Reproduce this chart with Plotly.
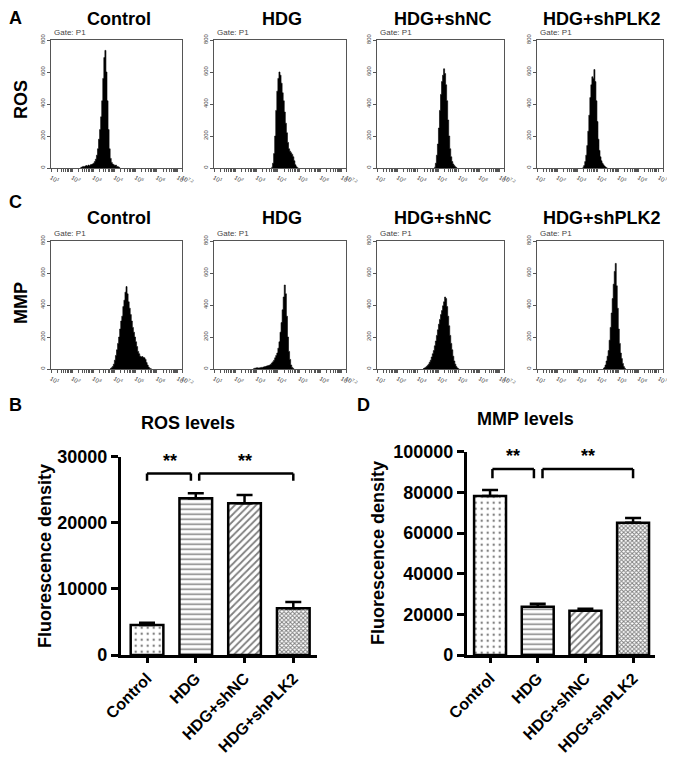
import numpy as np
import plotly.graph_objects as go

# The page body has an 8px margin; the figure is sized to fit the 675x763 window.
REF_W, REF_H = 675, 763
OFF = 8
W, H = REF_W - OFF, REF_H - OFF
FONT = "Arial, 'Liberation Sans', sans-serif"

# ---------------- data ----------------
groups = ["Control", "HDG", "HDG+shNC", "HDG+shPLK2"]

ros_means = [4540, 23700, 22950, 7060]
ros_err = [340, 760, 1250, 960]
mmp_means = [78200, 23700, 21800, 65100]
mmp_err = [2950, 1500, 970, 2300]

ros_ticks = [0, 10000, 20000, 30000]
mmp_ticks = [0, 20000, 40000, 60000, 80000, 100000]

bin_step = 0.05  # log10 units

# ROS histograms (log10 start of first bin, counts)
ros_control_start = 2.40
ros_control_counts = [4, 6, 10, 8, 12, 15, 12, 18, 14, 20, 22, 25, 30, 40, 55, 80, 120, 180,
                      240, 320, 420, 560, 690, 735, 600, 420, 240, 120, 60, 35, 25, 20, 15,
                      18, 10, 8, 4]
ros_hdg_start = 3.70
ros_hdg_counts = [5, 30, 90, 200, 360, 480, 560, 600, 580, 530, 470, 420, 350, 280, 220, 160,
                  120, 105, 95, 85, 70, 45, 20, 8, 2]
ros_shnc_start = 3.80
ros_shnc_counts = [5, 30, 80, 150, 250, 360, 460, 540, 580, 620, 590, 520, 420, 300, 200, 120,
                   70, 40, 25, 15, 8, 3]
ros_shplk2_start = 3.25
ros_shplk2_counts = [5, 15, 40, 80, 140, 230, 330, 440, 520, 570, 560, 615, 540, 420, 290, 180,
                     110, 70, 45, 30, 20, 12, 6, 2]

# MMP histograms
mmp_control_start = 3.80
mmp_control_counts = [3, 8, 15, 30, 55, 85, 120, 160, 200, 250, 300, 330, 390, 430, 480, 515,
                      470, 420, 380, 340, 300, 260, 230, 200, 170, 140, 110, 95, 80, 75, 78,
                      72, 70, 60, 40, 25, 12, 5, 2]
mmp_hdg_start = 2.85
mmp_hdg_counts = [3, 5, 6, 8, 6, 7, 8, 10, 10, 12, 14, 15, 18, 20, 22, 25, 30, 38, 45, 55, 70,
                  85, 100, 130, 170, 230, 290, 370, 450, 525, 470, 330, 200, 110, 60, 25, 10, 3]
mmp_shnc_start = 3.25
mmp_shnc_counts = [3, 6, 10, 15, 22, 30, 42, 55, 75, 95, 115, 145, 175, 210, 245, 280, 310, 340,
                   365, 395, 420, 450, 440, 390, 330, 270, 210, 160, 120, 80, 50, 30, 15, 7, 2]
mmp_shplk2_start = 4.25
mmp_shplk2_counts = [3, 10, 25, 50, 80, 115, 180, 260, 350, 440, 530, 610, 660, 520, 380, 250,
                     160, 100, 65, 35, 15, 5]

hist_rows = [
    [(ros_control_start, ros_control_counts), (ros_hdg_start, ros_hdg_counts),
     (ros_shnc_start, ros_shnc_counts), (ros_shplk2_start, ros_shplk2_counts)],
    [(mmp_control_start, mmp_control_counts), (mmp_hdg_start, mmp_hdg_counts),
     (mmp_shnc_start, mmp_shnc_counts), (mmp_shplk2_start, mmp_shplk2_counts)],
]
hist_y_ticks = [0, 200, 400, 600, 800]

# ---------------- helpers ----------------
def fx(p):
    return (p - OFF) / W

def fy(p):
    return 1 - (p - OFF) / H

fig = go.Figure()
layout = dict(width=W, height=H, margin=dict(l=0, r=0, t=0, b=0, pad=0, autoexpand=False),
              paper_bgcolor="white", plot_bgcolor="white", showlegend=False,
              font=dict(family=FONT, color="black"))
annotations = []
shapes = []

col_px = [(51, 182), (214, 346), (377, 504), (537, 663)]
row_px = [(40, 168), (241, 369)]
title_y = [None, 218]   # top row titles are pinned to the top edge

# log tick positions (major + minor)
tickvals, ticktext = [], []
for k in range(1, 8):
    for m in range(1, 10):
        v = m * 10 ** k
        if v > 10 ** 7.2:
            break
        tickvals.append(v)
        ticktext.append(f"10<sup>{k}</sup>" if m == 1 else "")
tickvals.append(10 ** 7.2)
ticktext.append("10<sup>7.2</sup>")

def top_or_mid(yy):
    if yy is None:
        return dict(y=1.0, yanchor="top", yshift=1)
    return dict(y=fy(yy), yanchor="middle")

ax = 0
for r, row in enumerate(hist_rows):
    for c, (start, counts) in enumerate(row):
        ax += 1
        edges = 10 ** (start + bin_step * np.arange(len(counts) + 1))
        ys = list(counts) + [0]
        fig.add_trace(go.Scatter(x=edges, y=ys, mode="lines", line=dict(color="black", width=0.6, shape="hv"),
                                 fill="tozeroy", fillcolor="black", xaxis=f"x{ax}", yaxis=f"y{ax}",
                                 hoverinfo="skip"))
        x0, x1 = col_px[c]
        y0, y1 = row_px[r]
        layout[f"xaxis{ax}"] = dict(domain=[fx(x0), fx(x1)], anchor=f"y{ax}", type="log", range=[1, 7.2],
                                    tickmode="array", tickvals=tickvals, ticktext=ticktext,
                                    ticks="outside", ticklen=3, tickwidth=0.8, tickcolor="#555",
                                    showline=True, mirror=True, linecolor="#555", linewidth=1,
                                    showgrid=False, zeroline=False, automargin=False,
                                    tickfont=dict(size=6, color="#444", family=FONT))
        layout[f"yaxis{ax}"] = dict(domain=[fy(y1), fy(y0)], anchor=f"x{ax}", range=[0, 800],
                                    tickmode="array", tickvals=hist_y_ticks,
                                    ticktext=[str(t) for t in hist_y_ticks], tickangle=-90,
                                    ticks="outside", ticklen=3, tickwidth=0.8, tickcolor="#555",
                                    showline=True, mirror=True, linecolor="#555", linewidth=1,
                                    showgrid=False, zeroline=False, automargin=False,
                                    tickfont=dict(size=6, color="#444", family=FONT))
        annotations.append(dict(text=groups[c], x=fx((x0 + x1) / 2 + 2), xref="paper", yref="paper",
                                showarrow=False, xanchor="center",
                                font=dict(size=18, family=FONT, weight="bold"), **top_or_mid(title_y[r])))
        annotations.append(dict(text="Gate: P1", x=fx(x0 + 1), y=fy(y0 - 1), xref="paper", yref="paper",
                                showarrow=False, xanchor="left", yanchor="bottom",
                                font=dict(size=8, color="#444", family=FONT)))

# row labels and panel letters
for txt, yy in [("ROS", 100), ("MMP", 303)]:
    annotations.append(dict(text=txt, x=fx(21), y=fy(yy), xref="paper", yref="paper", showarrow=False,
                            textangle=-90, xanchor="center", yanchor="middle",
                            font=dict(size=18, family=FONT, weight="bold")))
for txt, yy in [("A", None), ("C", 202), ("B", 405)]:
    annotations.append(dict(text=txt, x=0.0, xref="paper", yref="paper", showarrow=False,
                            xanchor="left", borderpad=0, font=dict(size=18, family=FONT, weight="bold"),
                            **top_or_mid(yy)))
annotations.append(dict(text="D", x=fx(363), y=fy(405), xref="paper", yref="paper", showarrow=False,
                        xanchor="center", yanchor="middle", font=dict(size=18, family=FONT, weight="bold")))

# ---------------- bar charts ----------------
patterns = [".", "-", "/", "x"]
pat_sizes = [6, 5, 5, 3]
pat_solid = [0.12, 0.3, 0.35, 0.55]
xs = list(range(len(groups)))

bar_specs = [
    dict(ax=9, means=ros_means, err=ros_err, ticks=ros_ticks, xpx=(120.7, 316.7), ypx=(456.7, 655),
         xr=[-0.54, 3.48], title="ROS levels", tpos=(188, 423), ytitle=(45, 556),
         brackets=[(0.0, 0.9, 27450, 26350), (1.07, 3.0, 27450, 26350)],
         stars=[(0.47, 27450), (2.01, 27450)]),
    dict(ax=10, means=mmp_means, err=mmp_err, ticks=mmp_ticks, xpx=(466.7, 655), ypx=(451.7, 655),
         xr=[-0.49, 3.46], title="MMP levels", tpos=(525, 419), ytitle=(378, 553),
         brackets=[(0.05, 0.92, 91500, 86900), (1.1, 3.0, 91500, 86900)],
         stars=[(0.49, 91500), (2.06, 91500)]),
]

for s in bar_specs:
    a = s["ax"]
    fig.add_trace(go.Bar(x=xs, y=s["means"], width=0.67, xaxis=f"x{a}", yaxis=f"y{a}",
                         marker=dict(color="white", line=dict(color="black", width=2.5),
                                     pattern=dict(shape=patterns, fgcolor="black", bgcolor="white",
                                                  size=pat_sizes, solidity=pat_solid)),
                         error_y=dict(type="data", array=s["err"], arrayminus=[0] * len(groups),
                                      symmetric=False, color="black", thickness=2.5, width=8),
                         hoverinfo="skip"))
    x0, x1 = s["xpx"]
    y0, y1 = s["ypx"]
    ymax = s["ticks"][-1]
    layout[f"xaxis{a}"] = dict(domain=[fx(x0), fx(x1)], anchor=f"y{a}", range=s["xr"],
                               tickmode="array", tickvals=xs, ticktext=groups, tickangle=-45,
                               ticks="outside", ticklen=5, tickwidth=2.5, tickcolor="black",
                               showline=True, linecolor="black", linewidth=2.5, showgrid=False,
                               zeroline=False, automargin=False,
                               tickfont=dict(size=16, family=FONT, weight="bold"))
    layout[f"yaxis{a}"] = dict(domain=[fy(y1), fy(y0)], anchor=f"x{a}", range=[0, ymax],
                               tickmode="array", tickvals=s["ticks"], ticktext=[str(t) for t in s["ticks"]],
                               ticks="outside", ticklen=7, tickwidth=2.5, tickcolor="black",
                               showline=True, linecolor="black", linewidth=2.5, showgrid=False,
                               zeroline=False, automargin=False,
                               tickfont=dict(size=18, family=FONT, weight="bold"))
    annotations.append(dict(text=s["title"], x=fx(s["tpos"][0]), y=fy(s["tpos"][1]), xref="paper",
                            yref="paper", showarrow=False, xanchor="center", yanchor="middle",
                            font=dict(size=18, family=FONT, weight="bold")))
    annotations.append(dict(text="Fluorescence density", x=fx(s["ytitle"][0]), y=fy(s["ytitle"][1]),
                            xref="paper", yref="paper", showarrow=False, textangle=-90,
                            xanchor="center", yanchor="middle",
                            font=dict(size=18, family=FONT, weight="bold")))
    for (bx0, bx1, top, tip) in s["brackets"]:
        for (sx0, sy0, sx1, sy1) in [(bx0, tip, bx0, top), (bx0, top, bx1, top), (bx1, top, bx1, tip)]:
            shapes.append(dict(type="line", xref=f"x{a}", yref=f"y{a}", x0=sx0, y0=sy0, x1=sx1, y1=sy1,
                               line=dict(color="black", width=2.5)))
    for (sx, sy) in s["stars"]:
        annotations.append(dict(text="**", x=sx, y=sy, xref=f"x{a}", yref=f"y{a}", showarrow=False,
                                xanchor="center", yanchor="bottom", yshift=1,
                                font=dict(size=18, family=FONT, weight="bold")))

layout["annotations"] = annotations
layout["shapes"] = shapes
fig.update_layout(**layout)
fig.write_html("out.html")
